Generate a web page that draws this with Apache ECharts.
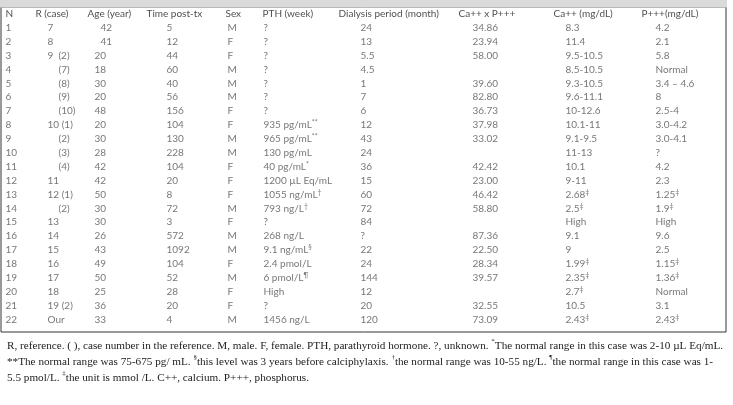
<!DOCTYPE html>
<html>
<head>
<meta charset="utf-8">
<script src="https://cdn.jsdelivr.net/npm/echarts@6/dist/echarts.min.js"></script>
<style>
  html, body { margin: 0; padding: 0; background: #fff; }
  #main { width: 733px; height: 405px; }
</style>
</head>
<body>
<div id="main"></div>
<script>
// table contents, one array per column
var headers = ['N', 'R (case)', 'Age (year)', 'Time post-tx', 'Sex', 'PTH (week)',
    'Dialysis period (month)', 'Ca++ x P+++', 'Ca++ (mg/dL)', 'P+++(mg/dL)'];
var colN = ['1', '2', '3', '4', '5', '6', '7', '8', '9', '10', '11',
    '12', '13', '14', '15', '16', '17', '18', '19', '20', '21', '22'];
var colRef = ['7', '8', '9  (2)', '(7)', '(8)', '(9)', '(10)', '10 (1)', '(2)', '(3)', '(4)',
    '11', '12 (1)', '(2)', '13', '14', '15', '16', '17', '18', '19 (2)', 'Our'];
var colAge = ['42', '41', '20', '18', '30', '20', '48', '20', '30', '28', '42',
    '42', '50', '30', '30', '26', '43', '49', '50', '25', '36', '33'];
var colTime = ['5', '12', '44', '60', '40', '56', '156', '104', '130', '228', '104',
    '20', '8', '72', '3', '572', '1092', '104', '52', '28', '20', '4'];
var colSex = ['M', 'F', 'F', 'M', 'M', 'M', 'F', 'F', 'M', 'M', 'F',
    'F', 'F', 'M', 'F', 'M', 'M', 'F', 'M', 'F', 'F', 'M'];
var colPth = ['?', '?', '?', '?', '?', '?', '?', '935 pg/mL**', '965 pg/mL**', '130 pg/mL', '40 pg/mL*',
    '1200 \u00b5L Eq/mL', '1055 ng/mL\u2020', '793 ng/L\u2020', '?', '268 ng/L', '9.1 ng/mL\u00a7',
    '2.4 pmol/L', '6 pmol/L\u00b6', 'High', '?', '1456 ng/L'];
var colDialysis = ['24', '13', '5.5', '4.5', '1', '7', '6', '12', '43', '24', '36',
    '15', '60', '72', '84', '?', '22', '24', '144', '12', '20', '120'];
var colCaP = ['34.86', '23.94', '58.00', '', '39.60', '82.80', '36.73', '37.98', '33.02', '', '42.42',
    '23.00', '46.42', '58.80', '', '87.36', '22.50', '28.34', '39.57', '', '32.55', '73.09'];
var colCa = ['8.3', '11.4', '9.5-10.5', '8.5-10.5', '9.3-10.5', '9.6-11.1', '10-12.6', '10.1-11', '9.1-9.5', '11-13', '10.1',
    '9-11', '2.68\u2021', '2.5\u2021', 'High', '9.1', '9', '1.99\u2021', '2.35\u2021', '2.7\u2021', '10.5', '2.43\u2021'];
var colP = ['4.2', '2.1', '5.8', 'Normal', '3.4 \u2013 4.6', '8', '2.5-4', '3.0-4.2', '3.0-4.1', '?', '4.2',
    '2.3', '1.25\u2021', '1.9\u2021', 'High', '9.6', '2.5', '1.15\u2021', '1.36\u2021', 'Normal', '3.1', '2.43\u2021'];

var columns = [colN, colRef, colAge, colTime, colSex, colPth, colDialysis, colCaP, colCa, colP];

// layout (pixel x of each column, header and body)
var headX = [5, 35, 87, 146, 225, 262, 338, 458, 553, 641];
var bodyX = [5, 47, 94, 166, 227, 263, 360, 472, 565, 655];

var headData = headers.map(function (h, i) {
    return { value: [headX[i], 0], text: h };
});
var bodyData = [];
columns.forEach(function (col, c) {
    col.forEach(function (t, r) {
        if (t === '') return;
        var x = bodyX[c];
        if (c === 1 && t.charAt(0) === '(') x = 58;   // reference-only cases
        if (c === 2 && r < 2) x = 100;                 // first two ages sit further right
        bodyData.push({ value: [x, r + 1], text: t });
    });
});

function fmt(p) {
    var t = p.data.text;
    var m = t.match(/^(.*?)([*\u2020\u2021\u00a7\u00b6]+)$/);
    if (m && m[1] !== '') return m[1] + '{s|' + m[2] + '}';
    return t;
}

var note1 = 'R, reference. ( ), case number in the reference. M, male. F, female. PTH, parathyroid hormone. ?, unknown. {s|*}The normal range in this case was 2-10 \u00b5L Eq/mL.';
var note2 = '**The normal range was 75-675 pg/ mL. {s|\u00a7}this level was 3 years before calciphylaxis. {s|\u2020}the normal range was 10-55 ng/L. {s|\u00b6}the normal range in this case was 1-';
var note3 = '5.5 pmol/L. {s|\u2021}the unit is mmol /L. C++, calcium. P+++, phosphorus.';

var myChart = echarts.init(document.getElementById('main'));
var option = {
    animation: false,
    backgroundColor: '#fff',
    title: {
        text: note1 + '\n' + note2 + '\n' + note3,
        left: 2,
        top: 333,
        textStyle: {
            fontFamily: 'Liberation Serif',
            fontSize: 11.2,
            fontWeight: 'normal',
            color: '#222',
            lineHeight: 16,
            rich: {
                s: { fontSize: 7, verticalAlign: 'top', lineHeight: 16, padding: [0, 0, 5, 0] }
            }
        }
    },
    grid: {
        left: 1, right: 7, top: 7, bottom: 73,
        show: true,
        borderColor: '#333',
        borderWidth: 1
    },
    xAxis: { type: 'value', min: 1, max: 726, show: false },
    yAxis: { type: 'value', min: -0.5, max: 22.9, inverse: true, show: false },
    graphic: [{
        type: 'rect',
        z: 100,
        shape: { x: 0, y: 0, width: 727, height: 7.5 },
        style: { fill: '#dadada' }
    }],
    series: [{
        name: 'header',
        type: 'scatter',
        silent: true,
        symbolSize: 1,
        itemStyle: { color: 'transparent' },
        label: {
            show: true, position: 'right', distance: 0,
            fontFamily: 'Lato', fontSize: 10, color: '#1a1a1a',
            formatter: fmt
        },
        data: headData
    }, {
        name: 'body',
        type: 'scatter',
        silent: true,
        symbolSize: 1,
        itemStyle: { color: 'transparent' },
        label: {
            show: true, position: 'right', distance: 0,
            fontFamily: 'Lato', fontSize: 10, color: '#555',
            formatter: fmt,
            rich: { s: { fontSize: 7, color: '#555', verticalAlign: 'top', padding: [0, 0, 4, 0] } }
        },
        data: bodyData
    }]
};
myChart.setOption(option);
</script>
</body>
</html>
